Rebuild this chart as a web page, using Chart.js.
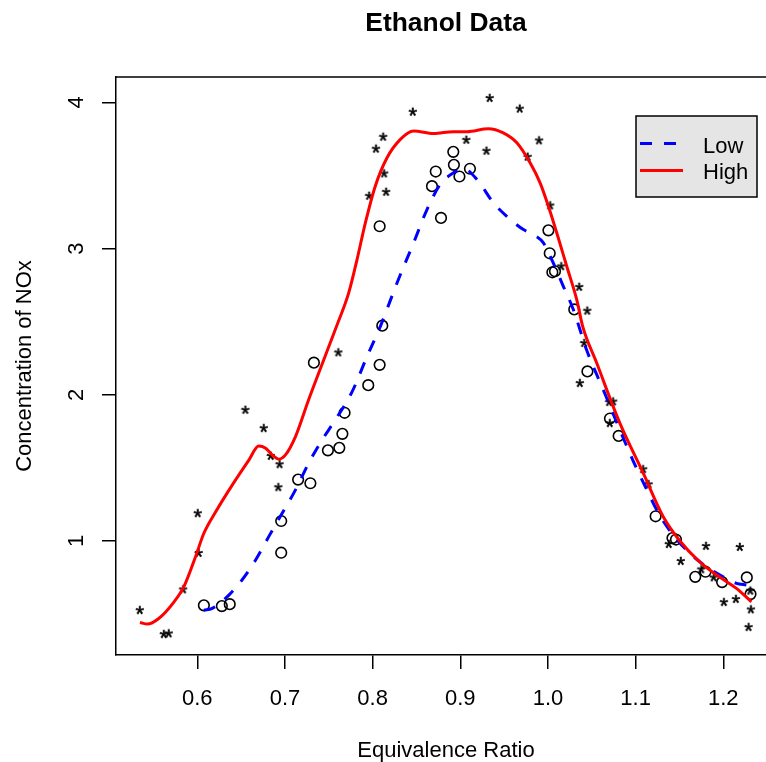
<!DOCTYPE html>
<html>
<head>
<meta charset="utf-8">
<script src="https://cdn.jsdelivr.net/npm/chart.js@4.4.1/dist/chart.umd.min.js"></script>
<style>
  html, body { margin: 0; padding: 0; background: #fff; }
</style>
</head>
<body>
<canvas id="myChart" width="766" height="762"></canvas>
<script>
// Low equivalence points (circles)
const lowX = [0.6075, 0.628, 0.637, 0.6957, 0.6957, 0.715, 0.729, 0.733, 0.749, 0.762,
    0.7655, 0.768, 0.795, 0.808, 0.811, 0.808, 0.8677, 0.872, 0.878, 0.892,
    0.8927, 0.899, 0.911, 1.0005, 1.002, 1.005, 1.008, 1.030, 1.045, 1.0707,
    1.0806, 1.1228, 1.142, 1.146, 1.168, 1.1797, 1.1986, 1.2268, 1.231];
const lowY = [0.56, 0.555, 0.568, 1.137, 0.92, 1.42, 1.395, 2.22, 1.62, 1.637,
    1.733, 1.877, 2.066, 2.205, 2.473, 3.153, 3.427, 3.527, 3.21, 3.662,
    3.573, 3.493, 3.546, 3.125, 2.968, 2.838, 2.845, 2.584, 2.16, 1.838,
    1.719, 1.169, 1.02, 1.01, 0.755, 0.79, 0.719, 0.751, 0.637];

// High points (stars)
const highX = [0.5346, 0.562, 0.5676, 0.584, 0.6018, 0.6007, 0.655, 0.676, 0.684, 0.694,
    0.6926, 0.761, 0.7962, 0.8156, 0.8133, 0.804, 0.8122, 0.846, 0.907, 0.93,
    0.9337, 0.968, 0.977, 0.99, 1.0027, 1.0153, 1.0358, 1.045, 1.0415, 1.0366,
    1.07, 1.0745, 1.0707, 1.1087, 1.115, 1.138, 1.1517, 1.175, 1.1804, 1.1892,
    1.2009, 1.2146, 1.219, 1.231, 1.2317, 1.229];
const highY = [0.527, 0.363, 0.368, 0.669, 0.918, 1.19, 1.897, 1.772, 1.582, 1.525,
    1.368, 2.29, 3.361, 3.388, 3.514, 3.683, 3.765, 3.936, 3.744, 3.669,
    4.03, 3.957, 3.628, 3.74, 3.295, 2.879, 2.738, 2.575, 2.354, 2.08,
    1.95, 1.954, 1.806, 1.491, 1.388, 0.979, 0.863, 0.806, 0.966, 0.751,
    0.582, 0.603, 0.959, 0.66, 0.532, 0.411];

// smooth fits
const lowFitX = [0.6075, 0.617, 0.636, 0.651, 0.6665, 0.6815, 0.6968, 0.712, 0.727, 0.7424,
    0.7575, 0.7765, 0.7936, 0.8088, 0.8278, 0.8467, 0.862, 0.877, 0.8922, 0.9036,
    0.919, 0.9378, 0.953, 0.972, 0.9834, 0.9948, 1.006, 1.0175, 1.029, 1.044,
    1.0631, 1.082, 1.097, 1.112, 1.127, 1.143, 1.1618, 1.1808, 1.1998, 1.215, 1.2264];
const lowFitY = [0.527, 0.539, 0.63, 0.733, 0.87, 1.03, 1.19, 1.35, 1.532, 1.692,
    1.829, 2.02, 2.262, 2.468, 2.765, 3.039, 3.267, 3.438, 3.518, 3.546,
    3.473, 3.313, 3.221, 3.13, 3.096, 3.039, 2.902, 2.742, 2.582, 2.308,
    2.034, 1.76, 1.55, 1.36, 1.18, 1.04, 0.916, 0.824, 0.755, 0.71, 0.699];

const highFitX = [0.5346, 0.543, 0.556, 0.5735, 0.585, 0.598, 0.6075, 0.621, 0.640, 0.659,
    0.670, 0.678, 0.6854, 0.693, 0.7006, 0.712, 0.727, 0.7385, 0.7595, 0.7727,
    0.7822, 0.7917, 0.803, 0.8164, 0.8316, 0.8467, 0.8695, 0.892, 0.9075, 0.932,
    0.949, 0.9645, 0.9796, 0.991, 1.0005, 1.010, 1.0214, 1.0328, 1.0396, 1.0556,
    1.082, 1.1087, 1.1315, 1.1505, 1.173, 1.1955, 1.215, 1.232];
const highFitY = [0.443, 0.432, 0.47, 0.584, 0.692, 0.893, 1.053, 1.2, 1.384, 1.555,
    1.65, 1.635, 1.589, 1.56, 1.589, 1.714, 1.966, 2.149, 2.479, 2.697,
    2.925, 3.176, 3.427, 3.621, 3.747, 3.804, 3.787, 3.80, 3.80, 3.82,
    3.792, 3.724, 3.587, 3.45, 3.29, 3.108, 2.879, 2.651, 2.468, 2.217,
    1.806, 1.464, 1.166, 1.0, 0.858, 0.755, 0.676, 0.584];

const xTicks = [0.6, 0.7, 0.8, 0.9, 1.0, 1.1, 1.2];
const yTicks = [1, 2, 3, 4];

const FONT = '"Liberation Sans", Arial, Helvetica, sans-serif';

function pts(xs, ys) {
    return xs.map((x, i) => ({ x: x, y: ys[i] }));
}

// "*" glyph used as point style
function starGlyph() {
    const c = document.createElement('canvas');
    c.width = 14;
    c.height = 14;
    const g = c.getContext('2d');
    g.font = '22px ' + FONT;
    g.fillStyle = '#000';
    g.strokeStyle = '#000';
    g.lineWidth = 0.6;
    const m = g.measureText('*');
    const x0 = 7 - (m.actualBoundingBoxRight - m.actualBoundingBoxLeft) / 2;
    const y0 = 7 + (m.actualBoundingBoxAscent - m.actualBoundingBoxDescent) / 2;
    g.fillText('*', x0, y0);
    g.strokeText('*', x0, y0);
    return c;
}

const rFrame = {
    id: 'rFrame',
    afterDraw(chart) {
        const c = chart.ctx;
        const a = chart.chartArea;
        const xs = chart.scales.x;
        const ys = chart.scales.y;
        c.save();
        c.strokeStyle = '#000';
        c.lineWidth = 1.5;
        c.beginPath();
        c.moveTo(a.left, a.top);
        c.lineTo(766, a.top);
        c.stroke();

        c.fillStyle = '#000';
        c.font = '22px ' + FONT;
        c.textAlign = 'center';
        c.textBaseline = 'alphabetic';
        xTicks.forEach(v => {
            c.fillText(v.toFixed(1), xs.getPixelForValue(v), 705);
        });
        yTicks.forEach(v => {
            c.save();
            c.translate(83, ys.getPixelForValue(v));
            c.rotate(-Math.PI / 2);
            c.fillText(String(v), 0, 0);
            c.restore();
        });

        // axis titles
        const cx = 446;
        c.fillText('Equivalence Ratio', cx, 757);
        c.save();
        c.translate(31, (a.top + a.bottom) / 2);
        c.rotate(-Math.PI / 2);
        c.fillText('Concentration of NOx', 0, 0);
        c.restore();

        c.font = 'bold 26.4px ' + FONT;
        c.fillText('Ethanol Data', cx, 31);

        // legend
        c.fillStyle = '#E5E5E5';
        c.fillRect(636, 116, 121, 81);
        c.strokeRect(636, 116, 121, 81);
        c.lineWidth = 3;
        c.strokeStyle = '#0000FF';
        c.setLineDash([12, 12]);
        c.beginPath();
        c.moveTo(640, 143.5);
        c.lineTo(683, 143.5);
        c.stroke();
        c.setLineDash([]);
        c.strokeStyle = '#FF0000';
        c.beginPath();
        c.moveTo(640, 170.5);
        c.lineTo(683, 170.5);
        c.stroke();
        c.fillStyle = '#000';
        c.font = '22px ' + FONT;
        c.textAlign = 'left';
        c.fillText('Low', 703, 152.5);
        c.fillText('High', 703, 179);
        c.restore();
    }
};

const ctx = document.getElementById('myChart');

new Chart(ctx, {
    type: 'scatter',
    data: {
        datasets: [{
            label: 'High fit',
            data: pts(highFitX, highFitY),
            showLine: true,
            borderColor: '#FF0000',
            borderWidth: 3,
            pointRadius: 0,
            cubicInterpolationMode: 'monotone',
            order: 0
        },
        {
            label: 'Low fit',
            data: pts(lowFitX, lowFitY),
            showLine: true,
            borderColor: '#0000FF',
            borderWidth: 3,
            borderDash: [12, 12],
            pointRadius: 0,
            cubicInterpolationMode: 'monotone',
            order: 1
        },
        {
            label: 'Low',
            data: pts(lowX, lowY),
            pointStyle: 'circle',
            pointRadius: 5.3,
            borderColor: '#000',
            borderWidth: 1.6,
            backgroundColor: 'rgba(0,0,0,0)',
            order: 2
        },
        {
            label: 'High',
            data: pts(highX, highY),
            pointStyle: starGlyph(),
            pointRadius: 5,
            order: 2
        }]
    },
    options: {
        responsive: false,
        animation: false,
        layout: {
            autoPadding: false,
            padding: { top: 77, left: 0, right: 0, bottom: 0 }
        },
        scales: {
            x: {
                type: 'linear',
                min: 0.50727,
                max: 1.24869,
                afterBuildTicks: s => { s.ticks = xTicks.map(v => ({ value: v })); },
                afterFit: s => {
                    s.height = 107;
                    s.paddingLeft = 0;
                    s.paddingRight = 0;
                },
                ticks: { display: false },
                grid: {
                    drawOnChartArea: false,
                    tickLength: 14,
                    color: '#000',
                    lineWidth: 1.5
                },
                border: { color: '#000', width: 1.5 }
            },
            y: {
                type: 'linear',
                min: 0.2203,
                max: 4.1737,
                afterBuildTicks: s => { s.ticks = yTicks.map(v => ({ value: v })); },
                afterFit: s => {
                    s.width = 116;
                    s.paddingTop = 0;
                    s.paddingBottom = 0;
                },
                ticks: { display: false },
                grid: {
                    drawOnChartArea: false,
                    tickLength: 14,
                    color: '#000',
                    lineWidth: 1.5
                },
                border: { color: '#000', width: 1.5 }
            }
        },
        plugins: {
            legend: { display: false },
            title: { display: false },
            tooltip: { enabled: false }
        }
    },
    plugins: [rFrame]
});
</script>
</body>
</html>
